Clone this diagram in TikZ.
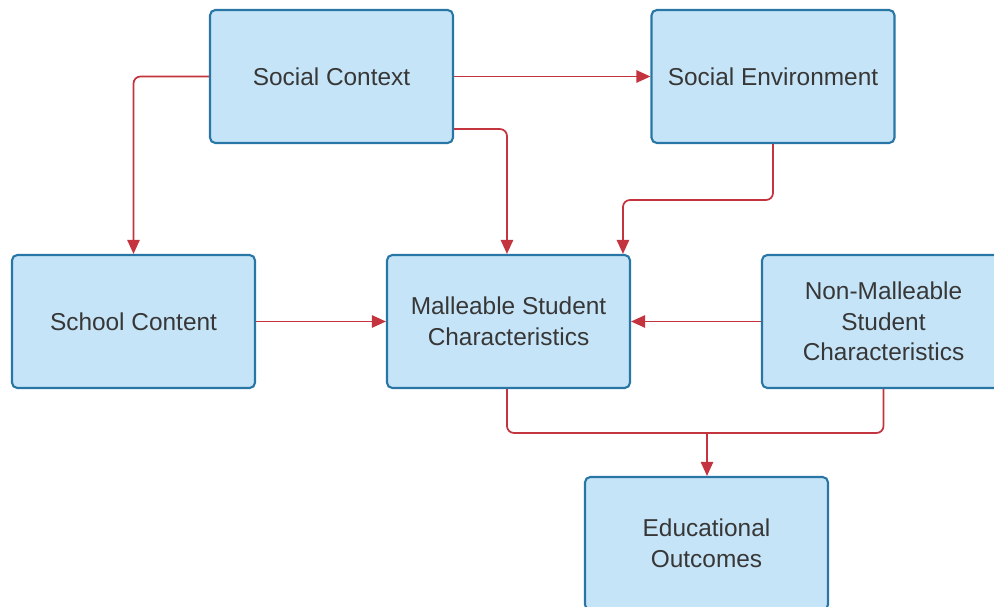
\documentclass[tikz,border=0pt]{standalone}
\usepackage{fontspec}
\setmainfont{Liberation Sans}
\usepackage{xcolor}
\usetikzlibrary{positioning,calc,arrows.meta}

\definecolor{boxfill}{RGB}{198,228,247}
\definecolor{boxline}{RGB}{40,118,166}
\definecolor{linkred}{RGB}{196,52,62}
\definecolor{labelgray}{RGB}{55,55,55}

\tikzset{
    factor/.style={draw=boxline, line width=1.2pt, fill=boxfill, rounded corners=3pt,
        minimum width=4.86cm, minimum height=2.66cm, align=center,
        text=labelgray, font=\fontsize{13.9}{17.5}\selectfont},
    link/.style={draw=linkred, line width=1pt, rounded corners=4pt,
        -{Triangle[length=8pt,width=7pt]}},
    joint/.style={draw=linkred, line width=1pt, rounded corners=4pt}
}

\begin{document}
\begin{tikzpicture}[x=0.02cm, y=-0.02cm]
    \useasboundingbox (0,0) rectangle (994,607);

    % Boxes
    \node[factor] (context) at (331.5,76.5) {Social Context};
    \node[factor] (environ) at (773,76.5) {Social Environment};
    \node[factor] (school) at (133.5,321.5) {School Content};
    \node[factor] (malleable) at (508.5,321.5) {Malleable Student\\Characteristics};
    \node[factor] (fixed) at (883.5,321.5) {Non-Malleable\\Student\\Characteristics};
    \node[factor] (outcome) at (706.5,543.5) {Educational\\Outcomes};

    % Links from the social context
    \draw[link] (context.west) -| (school.north);
    \draw[link] (context.east) -- (environ.west);
    \draw[link] ($(context.south east)+(0,-15)$) -| ($(malleable.north west)+(121,0)$);
    \draw[link] (environ.south) |- (700,200) -| ($(malleable.north west)+(237,0)$);

    % Links into the student characteristics
    \draw[link] (school.east) -- (malleable.west);
    \draw[link] (fixed.west) -- (malleable.east);

    % Links to the outcomes
    \coordinate (merge) at (707,433);
    \draw[joint] ($(malleable.south west)+(121,0)$) |- (merge);
    \draw[joint] (fixed.south) |- (merge);
    \draw[link] (merge) -- (merge |- outcome.north);
\end{tikzpicture}
\end{document}
